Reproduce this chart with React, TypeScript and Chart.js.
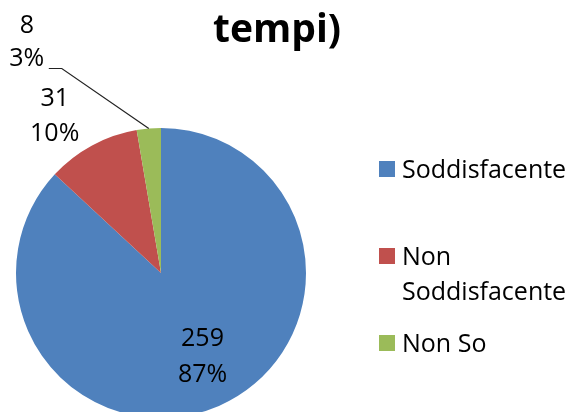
import React, { useEffect, useRef } from "react";
import { Chart, registerables } from "chart.js";

Chart.register(...registerables);

const titleText = "tempi)";
const categories = ["Soddisfacente", "Non Soddisfacente", "Non So"];
const values = [259, 31, 8];
const colors = ["#4F81BD", "#C0504D", "#9BBB59"];

// label placement style: radius factor along mid angle, plus pixel nudge
const labelStyle = [
  { f: 0.63, dx: 5, dy: -2, leader: false, gap: 36 },
  { f: 1.31, dx: -16, dy: 9, leader: false, gap: 35 },
  { f: 1.0, dx: -122, dy: -88, leader: true, gap: 33 },
];

const FONT = "25px 'Open Sans'";
const CAP = 9; // half cap height

function wrap(ctx: CanvasRenderingContext2D, text: string, maxW: number): string[] {
  const words = text.split(" ");
  const lines: string[] = [];
  let cur = "";
  for (const w of words) {
    const t = cur ? cur + " " + w : w;
    if (ctx.measureText(t).width > maxW && cur) {
      lines.push(cur);
      cur = w;
    } else cur = t;
  }
  if (cur) lines.push(cur);
  return lines;
}

const overlay = {
  id: "overlay",
  afterDraw(chart: any) {
    const ctx: CanvasRenderingContext2D = chart.ctx;
    const meta = chart.getDatasetMeta(0);
    const total = values.reduce((a, b) => a + b, 0);
    ctx.save();
    // title
    ctx.fillStyle = "#000";
    ctx.font = "bold 39px 'Open Sans'";
    ctx.textAlign = "center";
    ctx.textBaseline = "alphabetic";
    ctx.fillText(titleText, 277, 42);

    // data labels
    ctx.font = FONT;
    meta.data.forEach((arc: any, i: number) => {
      const st = labelStyle[i];
      const mid = (arc.startAngle + arc.endAngle) / 2;
      const r = arc.outerRadius;
      const cx = arc.x + Math.cos(mid) * r * st.f + st.dx;
      const cy = arc.y + Math.sin(mid) * r * st.f + st.dy;
      const pct = Math.round((values[i] / total) * 100) + "%";
      ctx.fillStyle = "#000";
      ctx.textAlign = "center";
      ctx.fillText(String(values[i]), cx, cy - st.gap / 2 + CAP);
      ctx.fillText(pct, cx, cy + st.gap / 2 + CAP);
      if (st.leader) {
        const ex = arc.x + Math.cos(mid) * r;
        const ey = arc.y + Math.sin(mid) * r;
        const ly = Math.round(cy + 27) + 0.5;
        ctx.strokeStyle = "#222";
        ctx.lineWidth = 1.2;
        ctx.beginPath();
        ctx.moveTo(ex, ey);
        ctx.lineTo(cx + 35, ly);
        ctx.lineTo(cx + 22, ly);
        ctx.stroke();
      }
    });

    // legend
    const lx = 379;
    const box = 16;
    const tx = 402;
    const firstY = 169;
    const step = 87;
    const lh = 35;
    ctx.textAlign = "left";
    categories.forEach((c, i) => {
      const yc = firstY + step * i;
      ctx.fillStyle = colors[i];
      ctx.fillRect(lx, yc - box / 2, box, box);
      ctx.fillStyle = "#000";
      const lines = wrap(ctx, c, 574 - tx - 2);
      lines.forEach((ln, j) => ctx.fillText(ln, tx, yc + CAP + j * lh));
    });
    ctx.restore();
  },
};

export default function App() {
  const ref = useRef<HTMLCanvasElement>(null);
  useEffect(() => {
    if (!ref.current) return;
    const chart = new Chart(ref.current, {
      type: "pie",
      data: {
        labels: categories,
        datasets: [
          {
            data: values,
            backgroundColor: colors,
            borderWidth: 0,
          },
        ],
      },
      options: {
        animation: false,
        responsive: false,
        layout: { padding: { left: 16, right: 268, top: 128, bottom: 12 } },
        plugins: {
          legend: { display: false },
          tooltip: { enabled: false },
          title: { display: false },
        },
      },
      plugins: [overlay],
    });
    return () => chart.destroy();
  }, []);
  return (
    <div
      style={{
        position: "fixed",
        left: 0,
        top: 0,
        width: 574,
        height: 412,
        overflow: "hidden",
        background: "#fff",
      }}
    >
      <canvas ref={ref} width={574} height={430} style={{ display: "block" }} />
    </div>
  );
}
